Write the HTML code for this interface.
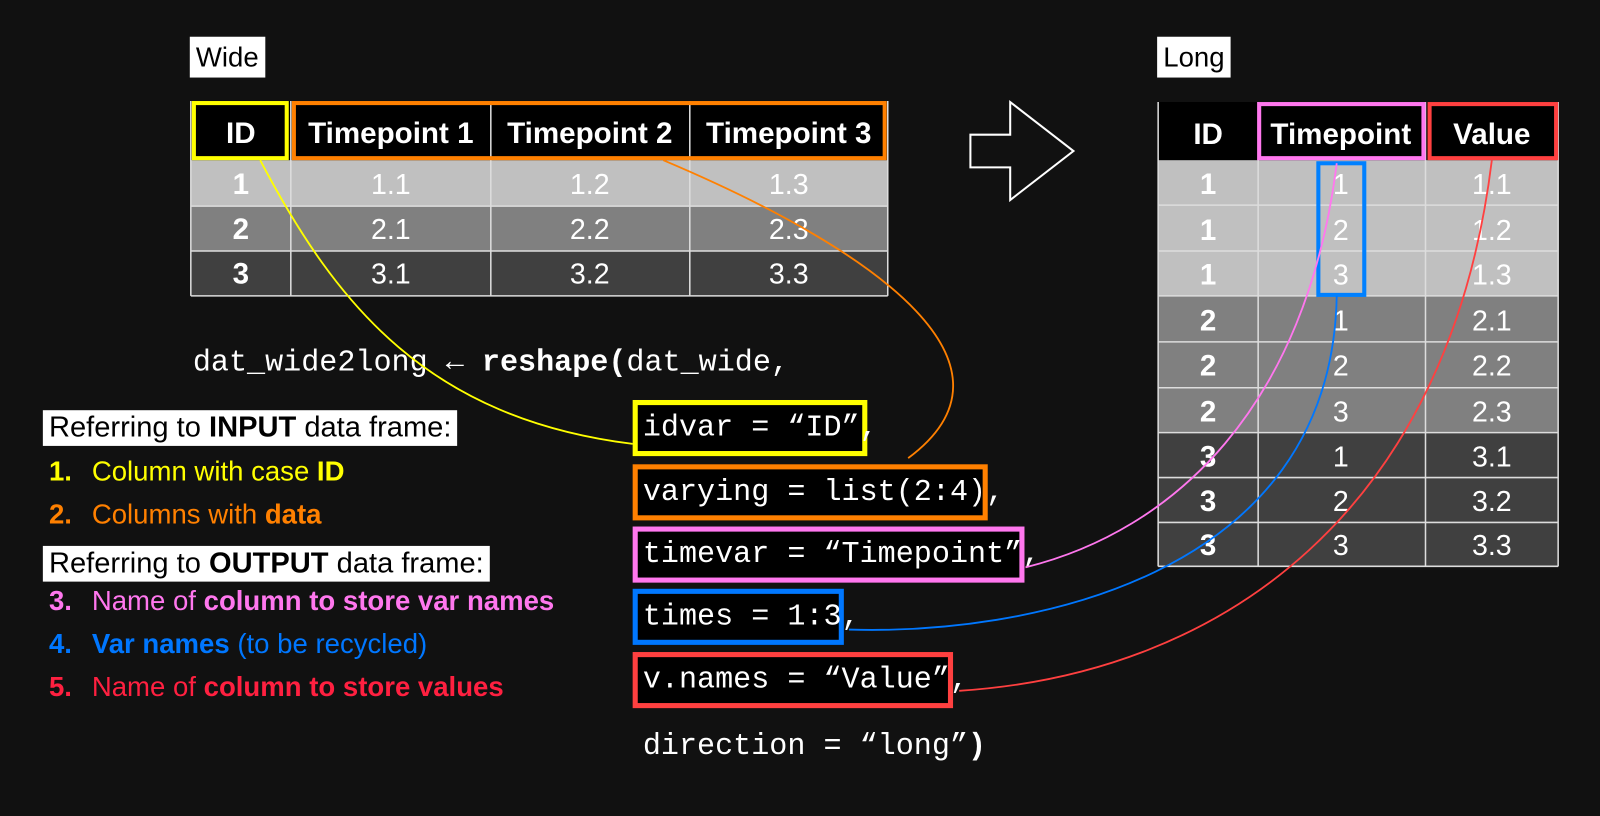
<!DOCTYPE html>
<html><head><meta charset="utf-8"><style>
body{margin:0;background:#111;width:1600px;height:800px;overflow:hidden;position:relative;font-family:"Liberation Sans",sans-serif}
#w{position:absolute;left:0;top:0;width:1568px;height:784px;transform:scale(1.0204);transform-origin:0 0}
.a{position:absolute}
.lbl{background:#fff;color:#000;font-size:27px;line-height:40px;padding:0 6px}
.code{font-family:"Liberation Mono",monospace;font-size:29.5px;color:#fff;white-space:pre;line-height:34px}
.box{position:absolute;border:5px solid;background:#000;box-sizing:border-box}
.li{position:absolute;left:48px;font-size:27px;white-space:nowrap}
.li b.n{display:inline-block;width:42px}
</style></head><body><div id="w">
<div class="a lbl" style="left:186px;top:36px">Wide</div>
<div class="a lbl" style="left:1134px;top:36px">Long</div>

<svg class="a" style="left:0;top:0" width="1600" height="800">
<g font-family="Liberation Sans,sans-serif" text-anchor="middle">
<rect x="187" y="99" width="683" height="58" fill="#000"/>
<rect x="187" y="157" width="683" height="45" fill="#c0c0c0"/>
<rect x="187" y="202" width="683" height="44" fill="#808080"/>
<rect x="187" y="246" width="683" height="44" fill="#404040"/>
<g stroke="#ddd" stroke-width="1.5">
<line x1="187" y1="202" x2="870" y2="202"/><line x1="187" y1="246" x2="870" y2="246"/><line x1="187" y1="290" x2="870" y2="290"/>
<line x1="187" y1="99" x2="187" y2="290"/><line x1="285" y1="99" x2="285" y2="290"/><line x1="481" y1="99" x2="481" y2="290"/><line x1="676" y1="99" x2="676" y2="290"/><line x1="870" y1="99" x2="870" y2="290"/>
</g>
<rect x="190" y="101" width="91" height="54" fill="none" stroke="#ffff00" stroke-width="4"/>
<rect x="288" y="101" width="579" height="54" fill="none" stroke="#ff8000" stroke-width="4"/>
<g fill="#fff" font-size="29" font-weight="bold">
<text x="236" y="140">ID</text><text x="383" y="140">Timepoint 1</text><text x="578" y="140">Timepoint 2</text><text x="773" y="140">Timepoint 3</text>
<text x="236" y="190">1</text><text x="236" y="234">2</text><text x="236" y="278">3</text>
</g>
<g fill="#fff" font-size="28">
<text x="383" y="190">1.1</text><text x="578" y="190">1.2</text><text x="773" y="190">1.3</text>
<text x="383" y="234">2.1</text><text x="578" y="234">2.2</text><text x="773" y="234">2.3</text>
<text x="383" y="278">3.1</text><text x="578" y="278">3.2</text><text x="773" y="278">3.3</text>
</g>
<polygon points="951,132 990,132 990,100 1052,148 990,196 990,164 951,164" fill="none" stroke="#fff" stroke-width="2"/>
<rect x="1135" y="100" width="392" height="57" fill="#000"/>
<rect x="1135" y="157" width="392" height="133" fill="#c0c0c0"/>
<rect x="1135" y="290" width="392" height="134" fill="#808080"/>
<rect x="1135" y="424" width="392" height="131" fill="#404040"/>
<g stroke="#ddd" stroke-width="1.5">
<line x1="1135" y1="201" x2="1527" y2="201"/><line x1="1135" y1="246" x2="1527" y2="246"/><line x1="1135" y1="290" x2="1527" y2="290"/>
<line x1="1135" y1="335" x2="1527" y2="335"/><line x1="1135" y1="380" x2="1527" y2="380"/><line x1="1135" y1="424" x2="1527" y2="424"/>
<line x1="1135" y1="468" x2="1527" y2="468"/><line x1="1135" y1="512" x2="1527" y2="512"/><line x1="1135" y1="555" x2="1527" y2="555"/>
<line x1="1135" y1="100" x2="1135" y2="555"/><line x1="1233" y1="100" x2="1233" y2="555"/><line x1="1397" y1="100" x2="1397" y2="555"/><line x1="1527" y1="100" x2="1527" y2="555"/>
</g>
<rect x="1234" y="102" width="161" height="53" fill="none" stroke="#ff77ee" stroke-width="4"/>
<rect x="1401" y="102" width="124" height="53" fill="none" stroke="#ff4040" stroke-width="4"/>
<rect x="1292" y="160" width="45" height="129" fill="none" stroke="#0080ff" stroke-width="4"/>
<g fill="#fff" font-size="29" font-weight="bold">
<text x="1184" y="141">ID</text><text x="1314" y="141">Timepoint</text><text x="1462" y="141">Value</text>
<text x="1184" y="190">1</text><text x="1184" y="235">1</text><text x="1184" y="279">1</text>
<text x="1184" y="324">2</text><text x="1184" y="368">2</text><text x="1184" y="413">2</text>
<text x="1184" y="457">3</text><text x="1184" y="501">3</text><text x="1184" y="544">3</text>
</g>
<g fill="#fff" font-size="28">
<text x="1314" y="190">1</text><text x="1314" y="235">2</text><text x="1314" y="279">3</text>
<text x="1314" y="324">1</text><text x="1314" y="368">2</text><text x="1314" y="413">3</text>
<text x="1314" y="457">1</text><text x="1314" y="501">2</text><text x="1314" y="544">3</text>
<text x="1462" y="190">1.1</text><text x="1462" y="235">1.2</text><text x="1462" y="279">1.3</text>
<text x="1462" y="324">2.1</text><text x="1462" y="368">2.2</text><text x="1462" y="413">2.3</text>
<text x="1462" y="457">3.1</text><text x="1462" y="501">3.2</text><text x="1462" y="544">3.3</text>
</g>
</g>
</svg>

<div class="a code" style="left:189px;top:338px">dat_wide2long ← <b>reshape(</b>dat_wide,</div>

<div class="box" style="left:620px;top:392px;width:230px;height:55px;border-color:#ffff00"></div>
<div class="box" style="left:620px;top:455px;width:348px;height:55px;border-color:#ff8000"></div>
<div class="box" style="left:620px;top:516px;width:384px;height:55px;border-color:#ff77ee"></div>
<div class="box" style="left:620px;top:577px;width:207px;height:55px;border-color:#0077ff"></div>
<div class="box" style="left:620px;top:639px;width:314px;height:55px;border-color:#ff4040"></div>
<div class="a code" style="left:630px;top:402px">idvar = “ID”,</div>
<div class="a code" style="left:630px;top:465px">varying = list(2:4),</div>
<div class="a code" style="left:630px;top:526px">timevar = “Timepoint”,</div>
<div class="a code" style="left:630px;top:587px">times = 1:3,</div>
<div class="a code" style="left:630px;top:649px">v.names = “Value”,</div>
<div class="a code" style="left:630px;top:714px">direction = “long”<b>)</b></div>

<div class="a lbl" style="left:42px;top:402px;font-size:28.5px;line-height:35px">Referring to <b>INPUT</b> data frame:</div>
<div class="li" style="top:447px;color:#ffff00"><b class="n">1.</b>Column with case <b>ID</b></div>
<div class="li" style="top:489px;color:#ff8000"><b class="n">2.</b>Columns with <b>data</b></div>
<div class="a lbl" style="left:42px;top:535px;font-size:28.5px;line-height:35px">Referring to <b>OUTPUT</b> data frame:</div>
<div class="li" style="top:574px;color:#ff77ee"><b class="n">3.</b>Name of <b>column to store var names</b></div>
<div class="li" style="top:616px;color:#0077ff"><b class="n">4.</b><b>Var names</b> (to be recycled)</div>
<div class="li" style="top:658px;color:#ff2040"><b class="n">5.</b>Name of <b>column to store values</b></div>

<svg class="a" style="left:0;top:0" width="1600" height="800" fill="none" stroke-width="1.8">
<path d="M255,157 C330,300 420,410 620,435" stroke="#ffff00"/>
<path d="M650,157 C870,250 1010,360 890,449" stroke="#ff8000"/>
<path d="M1005,556 C1150,520 1280,400 1310,160" stroke="#ff77ee"/>
<path d="M832,617 C1000,622 1305,570 1310,290" stroke="#0077ff"/>
<path d="M940,677 C1200,660 1420,500 1462,157" stroke="#ff4040"/>
</svg>
</div></body></html>
